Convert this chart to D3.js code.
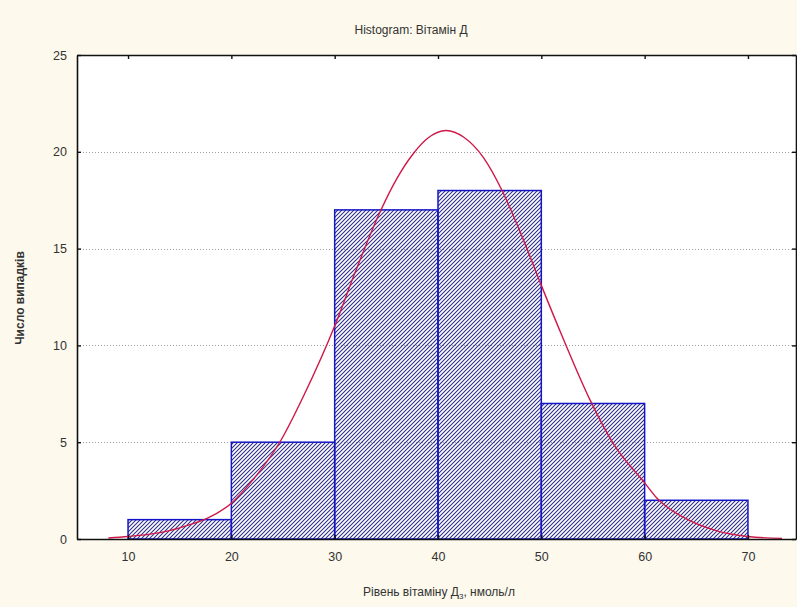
<!DOCTYPE html>
<html>
<head>
<meta charset="utf-8">
<script src="https://cdn.jsdelivr.net/npm/d3@7"></script>
<style>
  body { margin: 0; background: #fdf9ec; }
  svg { display: block; }
  text { font-family: "Liberation Sans", Arial, sans-serif; }
</style>
</head>
<body>
<div id="chart"></div>
<script>
// histogram bins and counts
var binStarts = [10, 20, 30, 40, 50, 60];
var binWidth = 10;
var counts = [1, 5, 17, 18, 7, 2];

// fitted normal curve
var curveX = [8.1, 10, 12, 14, 16, 17.6, 20, 22, 24.8, 27, 30, 32, 34.4, 36, 37.6, 39, 40.8, 42.5, 44.4, 46.2, 48, 50, 52, 54.7, 57, 60, 61.2, 64, 67, 70, 73.3];
var curveY = [0.05, 0.13, 0.24, 0.43, 0.74, 1.05, 1.85, 3.0, 5.1, 7.4, 11.0, 13.8, 16.9, 18.6, 19.9, 20.7, 21.1, 20.75, 19.7, 18.0, 15.8, 13.1, 10.5, 7.2, 4.9, 2.9, 2.1, 1.05, 0.42, 0.13, 0.03];

var xTicks = [10, 20, 30, 40, 50, 60, 70];
var yTicks = [0, 5, 10, 15, 20, 25];
var gridTicks = [5, 10, 15, 20];

var title = "Histogram: Вітамін Д";
var yLabel = "Число випадків";

var svgWidth = 797, svgHeight = 607;
var plotLeft = 77, plotRight = 796, plotTop = 55, plotBottom = 539;

var svg = d3.select("#chart").append("svg")
  .attr("width", svgWidth)
  .attr("height", svgHeight);

svg.append("rect")
  .attr("width", svgWidth).attr("height", svgHeight)
  .attr("fill", "#fdf9ec");

// hatch pattern
var defs = svg.append("defs");
defs.append("pattern")
    .attr("id", "hatch")
    .attr("patternUnits", "userSpaceOnUse")
    .attr("width", 4).attr("height", 4)
  .append("path")
    .attr("d", "M-1,1 l2,-2 M0,4 l4,-4 M3,5 l2,-2")
    .attr("stroke", "#2e2e88")
    .attr("stroke-width", 1.1);

var x = d3.scaleLinear().domain([5.06, 74.65]).range([plotLeft, plotRight]);
var y = d3.scaleLinear().domain([0, 25]).range([plotBottom, plotTop]);

// plot area
svg.append("rect")
  .attr("x", plotLeft).attr("y", plotTop)
  .attr("width", plotRight - plotLeft).attr("height", plotBottom - plotTop)
  .attr("fill", "#fff");

// dotted gridlines
svg.append("g").selectAll("line")
  .data(gridTicks)
  .enter().append("line")
    .attr("x1", plotLeft).attr("x2", plotRight)
    .attr("y1", function(d) { return Math.round(y(d)) + 0.5; })
    .attr("y2", function(d) { return Math.round(y(d)) + 0.5; })
    .attr("stroke", "#a0a0a0")
    .attr("stroke-dasharray", "1,2");

// bars
svg.append("g").selectAll("rect")
  .data(counts)
  .enter().append("rect")
    .attr("x", function(d, i) { return x(binStarts[i]); })
    .attr("y", function(d) { return y(d); })
    .attr("width", function(d, i) { return x(binStarts[i] + binWidth) - x(binStarts[i]); })
    .attr("height", function(d) { return y(0) - y(d); })
    .attr("fill", "url(#hatch)")
    .attr("stroke", "#1515c8")
    .attr("stroke-width", 1.5);

// normal curve
var line = d3.line()
  .x(function(d, i) { return x(curveX[i]); })
  .y(function(d) { return y(d); })
  .curve(d3.curveMonotoneX);

svg.append("path")
  .datum(curveY)
  .attr("d", line)
  .attr("fill", "none")
  .attr("stroke", "#d01848")
  .attr("stroke-width", 1.4);

// frame with inward ticks
svg.append("g")
    .attr("transform", "translate(0," + plotBottom + ")")
    .call(d3.axisBottom(x).tickValues(xTicks).tickSizeInner(-4).tickSizeOuter(0).tickPadding(13).tickFormat(d3.format("d")));
svg.append("g")
    .attr("transform", "translate(0," + plotTop + ")")
    .call(d3.axisTop(x).tickValues(xTicks).tickSizeInner(-4).tickSizeOuter(0).tickFormat(""));
svg.append("g")
    .attr("transform", "translate(" + plotLeft + ",0)")
    .call(d3.axisLeft(y).tickValues(yTicks).tickSizeInner(-4).tickSizeOuter(0).tickPadding(10));
svg.append("g")
    .attr("transform", "translate(" + plotRight + ",0)")
    .call(d3.axisRight(y).tickValues(yTicks).tickSizeInner(-4).tickSizeOuter(0).tickFormat(""));

svg.selectAll(".domain").attr("stroke", "#111").attr("stroke-width", 1.6);
svg.selectAll(".tick line").attr("stroke", "#111").attr("stroke-width", 1.4);
svg.selectAll(".tick text")
  .attr("font-family", "Liberation Sans, Arial, sans-serif")
  .attr("font-size", 12.5)
  .attr("fill", "#333");

// title
svg.append("text")
  .attr("x", 411).attr("y", 34)
  .attr("text-anchor", "middle")
  .attr("font-size", 12)
  .attr("fill", "#333")
  .text(title);

// x-axis label with subscript
var xl = svg.append("text")
  .attr("x", 439).attr("y", 596)
  .attr("text-anchor", "middle")
  .attr("font-size", 12)
  .attr("fill", "#333");
xl.append("tspan").text("Рівень вітаміну Д");
xl.append("tspan").attr("font-size", 8).attr("dy", 3).text("3");
xl.append("tspan").attr("dy", -3).text(", нмоль/л");

// y-axis label
svg.append("text")
  .attr("transform", "translate(24,298) rotate(-90)")
  .attr("text-anchor", "middle")
  .attr("font-size", 12)
  .attr("font-weight", "bold")
  .attr("fill", "#333")
  .text(yLabel);
</script>
</body>
</html>
